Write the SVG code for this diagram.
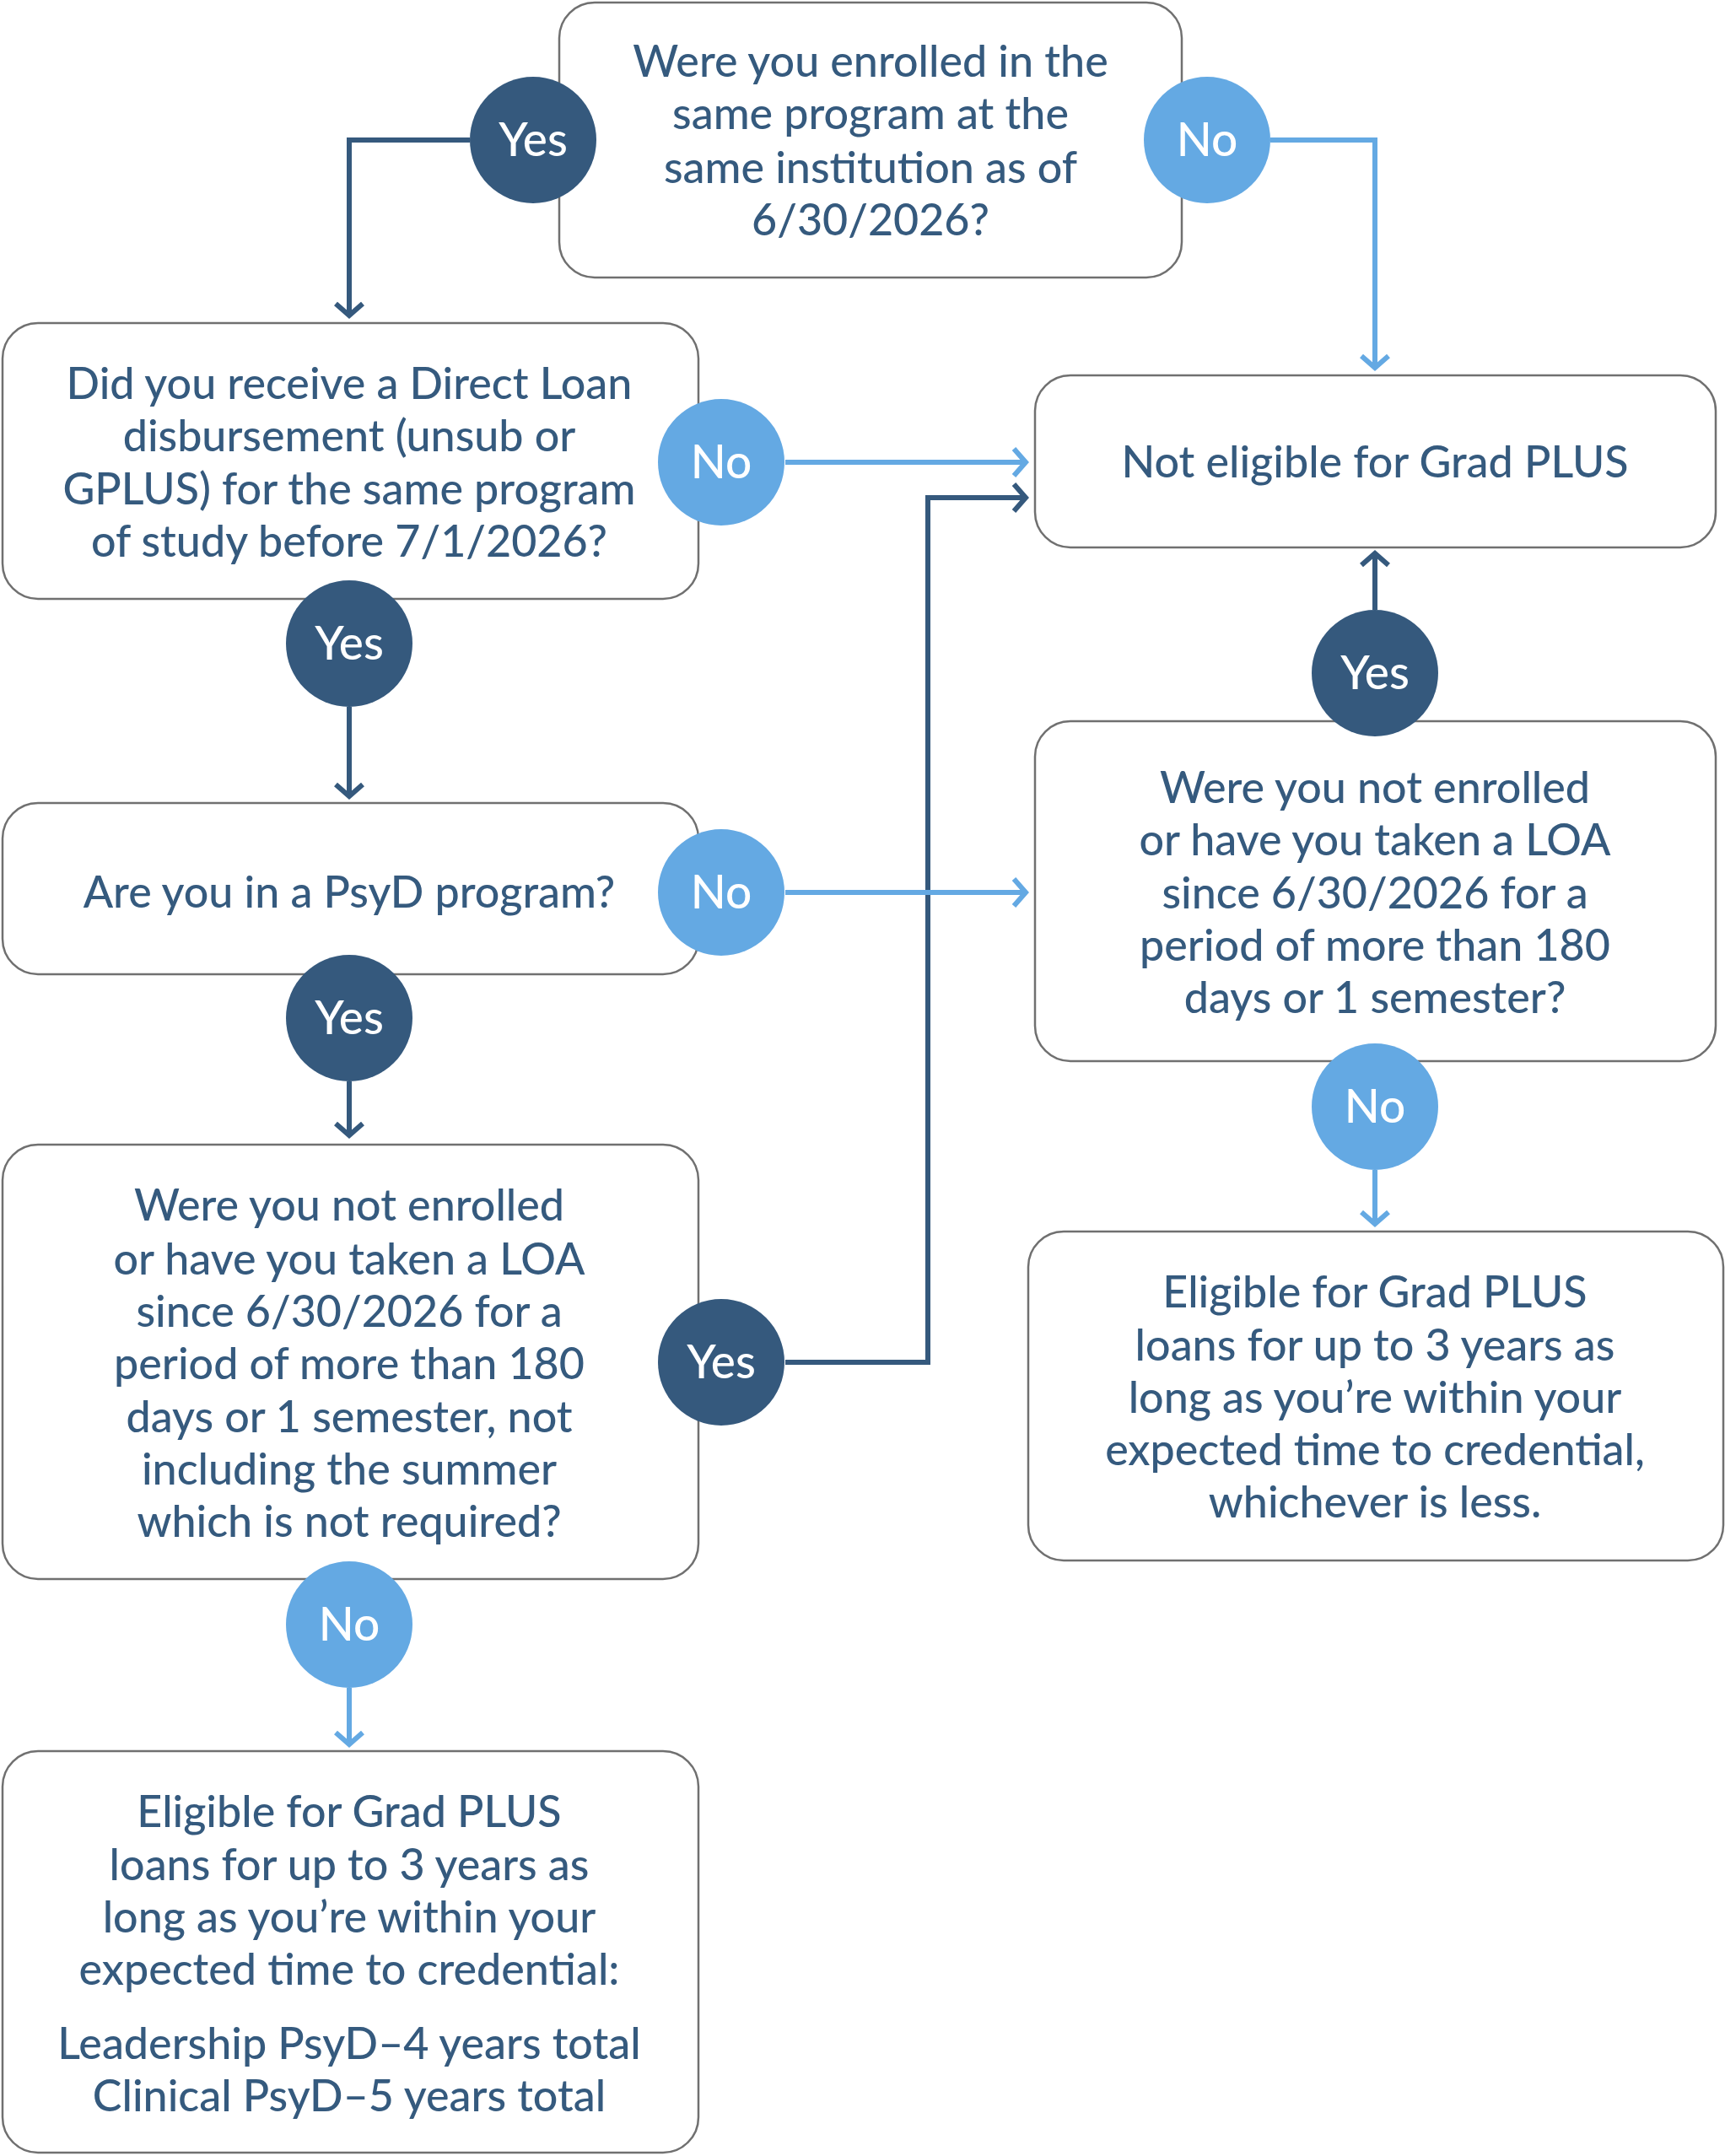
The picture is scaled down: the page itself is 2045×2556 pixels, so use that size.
<svg xmlns="http://www.w3.org/2000/svg" width="2045" height="2556" viewBox="0 0 2045 2556">
<style>
.box{fill:#fff;stroke:#707070;stroke-width:2.5}
.t{font-family:Lato,"Open Sans",sans-serif;font-size:52px;font-weight:500;fill:#355a7e;text-anchor:middle}
.ct{font-family:Lato,"Open Sans",sans-serif;font-size:55px;font-weight:500;fill:#fff;text-anchor:middle}
.dk{fill:#35597d}.lt{fill:#64a9e3}
.cd{fill:none;stroke:#35597d;stroke-width:6}
.cl{fill:none;stroke:#64a9e3;stroke-width:6}
</style>
<defs>
<marker id="ad" markerUnits="userSpaceOnUse" markerWidth="40" markerHeight="40" refX="20" refY="20" orient="auto" viewBox="0 0 40 40"><path d="M6,4 L20,20 L6,36" fill="none" stroke="#35597d" stroke-width="6"/></marker>
<marker id="al" markerUnits="userSpaceOnUse" markerWidth="40" markerHeight="40" refX="20" refY="20" orient="auto" viewBox="0 0 40 40"><path d="M6,4 L20,20 L6,36" fill="none" stroke="#64a9e3" stroke-width="6"/></marker>
</defs>
<g id="connectors">
<path class="cd" d="M557,166 H414 V374" marker-end="url(#ad)"/>
<path class="cl" d="M1506,166 H1630 V436" marker-end="url(#al)"/>
<path class="cl" d="M931,548 H1216" marker-end="url(#al)"/>
<path class="cd" d="M931,1615 H1100 V590 H1216" marker-end="url(#ad)"/>
<path class="cl" d="M931,1058 H1216" marker-end="url(#al)"/>
<path class="cd" d="M414,838 V944" marker-end="url(#ad)"/>
<path class="cd" d="M414,1282 V1346" marker-end="url(#ad)"/>
<path class="cl" d="M414,2001 V2068" marker-end="url(#al)"/>
<path class="cd" d="M1630,723 V656" marker-end="url(#ad)"/>
<path class="cl" d="M1630,1387 V1451" marker-end="url(#al)"/>
</g>
<g id="q1"><rect class="box" x="663" y="3" width="738" height="326" rx="42"/>
<text class="t" x="1032" y="73" dy="0.35em">Were you enrolled in the</text>
<text class="t" x="1032" y="135" dy="0.35em">same program at the</text>
<text class="t" x="1032" y="199" dy="0.35em">same institution as of</text>
<text class="t" x="1032" y="261" dy="0.35em">6/30/2026?</text></g>
<g id="q2"><rect class="box" x="3" y="383" width="825" height="327" rx="42"/>
<text class="t" x="414" y="455" dy="0.35em">Did you receive a Direct Loan</text>
<text class="t" x="414" y="517" dy="0.35em">disbursement (unsub or</text>
<text class="t" x="414" y="580" dy="0.35em">GPLUS) for the same program</text>
<text class="t" x="414" y="642" dy="0.35em">of study before 7/1/2026?</text></g>
<g id="ne"><rect class="box" x="1227" y="445" width="807" height="204" rx="42"/>
<text class="t" x="1630" y="548" dy="0.35em">Not eligible for Grad PLUS</text></g>
<g id="q3"><rect class="box" x="3" y="952" width="825" height="203" rx="42"/>
<text class="t" x="414" y="1058" dy="0.35em">Are you in a PsyD program?</text></g>
<g id="q4"><rect class="box" x="3" y="1357" width="825" height="515" rx="42"/>
<text class="t" x="414" y="1429" dy="0.35em">Were you not enrolled</text>
<text class="t" x="414" y="1493" dy="0.35em">or have you taken a LOA</text>
<text class="t" x="414" y="1555" dy="0.35em">since 6/30/2026 for a</text>
<text class="t" x="414" y="1617" dy="0.35em">period of more than 180</text>
<text class="t" x="414" y="1680" dy="0.35em">days or 1 semester, not</text>
<text class="t" x="414" y="1742" dy="0.35em">including the summer</text>
<text class="t" x="414" y="1804" dy="0.35em">which is not required?</text></g>
<g id="e1"><rect class="box" x="3" y="2076" width="825" height="476" rx="42"/>
<text class="t" x="414" y="2148" dy="0.35em">Eligible for Grad PLUS</text>
<text class="t" x="414" y="2211" dy="0.35em">loans for up to 3 years as</text>
<text class="t" x="414" y="2273" dy="0.35em">long as you’re within your</text>
<text class="t" x="414" y="2335" dy="0.35em">expected time to credential:</text>
<text class="t" x="414" y="2423" dy="0.35em">Leadership PsyD–4 years total</text>
<text class="t" x="414" y="2485" dy="0.35em">Clinical PsyD–5 years total</text></g>
<g id="q5"><rect class="box" x="1227" y="855" width="807" height="403" rx="42"/>
<text class="t" x="1630" y="934" dy="0.35em">Were you not enrolled</text>
<text class="t" x="1630" y="996" dy="0.35em">or have you taken a LOA</text>
<text class="t" x="1630" y="1059" dy="0.35em">since 6/30/2026 for a</text>
<text class="t" x="1630" y="1121" dy="0.35em">period of more than 180</text>
<text class="t" x="1630" y="1183" dy="0.35em">days or 1 semester?</text></g>
<g id="e2"><rect class="box" x="1219" y="1460" width="824" height="390" rx="42"/>
<text class="t" x="1630" y="1532" dy="0.35em">Eligible for Grad PLUS</text>
<text class="t" x="1630" y="1595" dy="0.35em">loans for up to 3 years as</text>
<text class="t" x="1630" y="1657" dy="0.35em">long as you’re within your</text>
<text class="t" x="1630" y="1719" dy="0.35em">expected time to credential,</text>
<text class="t" x="1630" y="1781" dy="0.35em">whichever is less.</text></g>
<g id="labels">
<circle class="dk" cx="632" cy="166" r="75"/><text class="ct" x="632" y="166" dy="0.35em">Yes</text>
<circle class="lt" cx="1431" cy="166" r="75"/><text class="ct" x="1431" y="166" dy="0.35em">No</text>
<circle class="lt" cx="855" cy="548" r="75"/><text class="ct" x="855" y="548" dy="0.35em">No</text>
<circle class="dk" cx="414" cy="763" r="75"/><text class="ct" x="414" y="763" dy="0.35em">Yes</text>
<circle class="lt" cx="855" cy="1058" r="75"/><text class="ct" x="855" y="1058" dy="0.35em">No</text>
<circle class="dk" cx="414" cy="1207" r="75"/><text class="ct" x="414" y="1207" dy="0.35em">Yes</text>
<circle class="dk" cx="855" cy="1615" r="75"/><text class="ct" x="855" y="1615" dy="0.35em">Yes</text>
<circle class="lt" cx="414" cy="1926" r="75"/><text class="ct" x="414" y="1926" dy="0.35em">No</text>
<circle class="dk" cx="1630" cy="798" r="75"/><text class="ct" x="1630" y="798" dy="0.35em">Yes</text>
<circle class="lt" cx="1630" cy="1312" r="75"/><text class="ct" x="1630" y="1312" dy="0.35em">No</text>
</g>
</svg>
